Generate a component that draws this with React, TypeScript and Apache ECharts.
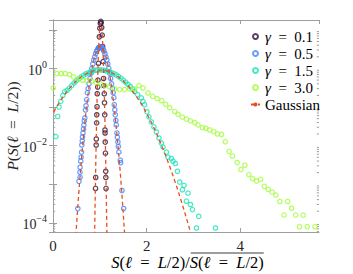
import React, { useEffect, useRef } from 'react';
import * as echarts from 'echarts';

const FONT = 'Liberation Serif';
const TXT = '#262626';
const AXIS = '#9e9e9e';

const seriesNames = ['γ = 0.1', 'γ = 0.5', 'γ = 1.5', 'γ = 3.0'];
const seriesColors = ['#30123b', '#4686fb', '#1ae4b6', '#a2fc3c'];
const gaussName = 'Gaussian';
const gaussColor = '#e4501e';

// gamma = 0.1
const gamma01: number[][] = [
  [1.02, 16.5], [1.01, 14.8], [1.03, 15.2], [1.0, 11.0], [1.04, 11.5], [0.99, 6.6], [1.05, 7.3],
  [0.98, 3.4], [1.06, 3.7], [0.97, 1.35], [1.07, 1.5], [0.96, 0.5], [1.08, 0.55], [0.955, 0.33], [1.085, 0.36],
  [0.945, 0.222], [0.94, 0.102], [0.935, 0.063], [0.932, 0.039], [0.925, 0.0149], [0.922, 0.0104],
  [0.912, 0.0015], [0.908, 0.00078],
  [1.095, 0.222], [1.1, 0.129], [1.105, 0.063], [1.11, 0.0255], [1.112, 0.0213], [1.115, 0.0124],
  [1.12, 0.0064], [1.126, 0.00217], [1.128, 0.0015], [1.132, 0.00078],
];

// gamma = 0.5
const gamma05: number[][] = [
  [0.75, 0.3], [0.77, 0.4], [0.79, 0.55], [0.81, 0.75], [0.83, 1.0], [0.85, 1.3], [0.87, 1.65], [0.89, 2.0],
  [0.91, 2.4], [0.93, 2.8], [0.95, 3.1], [0.97, 3.4], [0.99, 3.58], [1.01, 3.65], [1.03, 3.58], [1.05, 3.4],
  [1.07, 3.15], [1.09, 2.8], [1.11, 2.4], [1.13, 2.0], [1.15, 1.65], [1.17, 1.3], [1.19, 1.0], [1.21, 0.75],
  [1.23, 0.55], [1.25, 0.4], [1.27, 0.3],
  [0.735, 0.236], [0.72, 0.155], [0.705, 0.108], [0.695, 0.084], [0.68, 0.0526], [0.668, 0.0439],
  [0.66, 0.0345], [0.652, 0.0271], [0.64, 0.0213], [0.63, 0.0168], [0.625, 0.0132], [0.615, 0.0104],
  [0.61, 0.0068], [0.6, 0.00504], [0.592, 0.00396], [0.578, 0.00276], [0.575, 0.00205], [0.578, 0.00151],
  [0.555, 0.00119], [0.53, 0.000235],
  [1.285, 0.236], [1.3, 0.175], [1.309, 0.115], [1.32, 0.085], [1.33, 0.063], [1.342, 0.045], [1.352, 0.0345],
  [1.365, 0.0213], [1.375, 0.0165], [1.386, 0.0124], [1.395, 0.0095], [1.407, 0.0068], [1.437, 0.0042],
  [1.444, 0.00362], [1.472, 0.00069], [1.508, 0.000235],
];

// gamma = 1.5
const gamma15: number[][] = [
  [0.06, 0.0171], [0.1, 0.057], [0.13, 0.1], [0.165, 0.14], [0.21, 0.2], [0.25, 0.25],
  [0.3, 0.27], [0.35, 0.31], [0.4, 0.36], [0.45, 0.42], [0.5, 0.48], [0.55, 0.54], [0.6, 0.6], [0.65, 0.66],
  [0.7, 0.72], [0.75, 0.77], [0.8, 0.82], [0.85, 0.86], [0.9, 0.89], [0.95, 0.91], [1.0, 0.92], [1.05, 0.91],
  [1.1, 0.89], [1.15, 0.86], [1.2, 0.83], [1.25, 0.78], [1.3, 0.73], [1.35, 0.68], [1.4, 0.62], [1.45, 0.56],
  [1.5, 0.5], [1.55, 0.44], [1.6, 0.39], [1.65, 0.34], [1.7, 0.29],
  [1.743, 0.255], [1.807, 0.21], [1.887, 0.172], [1.921, 0.14], [1.957, 0.115], [2.006, 0.0754],
  [2.049, 0.0558], [2.1, 0.0413], [2.156, 0.0306], [2.207, 0.0226], [2.263, 0.0158], [2.314, 0.0117],
  [2.349, 0.00919], [2.421, 0.0068], [2.456, 0.00504], [2.528, 0.00466], [2.563, 0.00396], [2.614, 0.00345],
  [2.657, 0.00217], [2.706, 0.00114], [2.764, 0.000723], [2.798, 0.000936], [2.849, 0.000364],
  [2.883, 0.000589], [2.935, 0.000299], [2.978, 0.000221], [3.112, 0.000148], [3.063, 0.0000736],
  [3.47, 0.0000736],
];

// gamma = 3.0
const gamma30: number[][] = [
  [0.005, 0.313], [0.081, 0.74], [0.175, 0.74], [0.261, 0.74], [0.353, 0.697], [0.439, 0.607], [0.545, 0.538],
  [0.637, 0.495], [0.732, 0.486], [0.83, 0.466], [0.92, 0.431], [1.016, 0.394], [1.112, 0.36], [1.209, 0.333],
  [1.316, 0.295], [1.422, 0.283], [1.529, 0.283], [1.636, 0.295], [1.743, 0.292], [1.835, 0.36], [1.921, 0.313],
  [2.028, 0.232], [2.128, 0.189], [2.225, 0.165], [2.321, 0.146], [2.406, 0.118], [2.492, 0.0959],
  [2.599, 0.0768], [2.67, 0.0649], [2.764, 0.0548], [2.849, 0.0486], [2.935, 0.0439], [3.027, 0.0396],
  [3.097, 0.0345], [3.191, 0.0293], [3.262, 0.0283], [3.348, 0.0255], [3.433, 0.0231], [3.512, 0.0201],
  [3.598, 0.0195], [3.679, 0.01265], [3.76, 0.0071], [3.833, 0.00542], [3.932, 0.00366], [4.011, 0.00241],
  [4.096, 0.00311], [4.182, 0.00178], [4.261, 0.0014], [4.347, 0.00121], [4.432, 0.00134], [4.513, 0.00088],
  [4.595, 0.000736], [4.68, 0.000625], [4.759, 0.000522], [4.845, 0.000358], [4.935, 0.000159],
  [5.01, 0.000358], [5.095, 0.000239], [5.181, 0.000159], [5.264, 0.0000796], [5.343, 0.000159],
  [5.429, 0.0000796], [5.594, 0.0000796],
];

// Gaussian fits
const gaussMeans = [1.02, 1.01, 1.0];
const gaussSigmas = [0.026, 0.11, 0.44];

const xTickValues = [0, 2, 4];
const yLabelExponents = [-4, -2, 0];
const xMin = 0;
const xMax = 5.68;
const yMin = 5.8e-5;
const yMax = 18;

function gaussCurve(mu: number, sigma: number): number[][] {
  const peak = 1 / (sigma * Math.sqrt(2 * Math.PI));
  const half = sigma * Math.sqrt(2 * Math.log(peak / 2e-5));
  const pts: number[][] = [];
  const n = 240;
  for (let i = 0; i <= n; i++) {
    const x = mu - half + (2 * half * i) / n;
    if (x < xMin) continue;
    pts.push([x, peak * Math.exp(-((x - mu) * (x - mu)) / (2 * sigma * sigma))]);
  }
  return pts;
}

const richMath = (size: number) => ({
  i: { fontFamily: FONT, fontStyle: 'italic', fontSize: size, color: TXT },
  r: { fontFamily: FONT, fontStyle: 'normal', fontSize: size, color: TXT },
});

type Part = [string, boolean];
const toRich = (parts: Part[]) => parts.map(([t, it]) => `{${it ? 'i' : 'r'}|${t}}`).join('');
function measure(parts: Part[], size: number) {
  const ctx = document.createElement('canvas').getContext('2d');
  if (!ctx) return parts.reduce((s, [t]) => s + t.length * size * 0.5, 0);
  let w = 0;
  for (const [t, it] of parts) {
    ctx.font = `${it ? 'italic ' : ''}${size}px ${FONT}`;
    w += ctx.measureText(t).width;
  }
  return w;
}

function buildOption() {
  const sep = '\u2002=\u2002';
  const sPart: Part[] = [['S', true], ['(', false], ['ℓ', true], [sep, false], ['L', true], ['/2)', false]];
  const leftParts: Part[] = [...sPart, ['/', false]];
  const labelSize = 16.5;
  const w1 = measure(leftParts, labelSize);
  const w2 = measure(sPart, labelSize);
  const cx = 187.5;
  const split = cx - (w1 + w2) / 2 + w1;
  const labelY = 262;

  const minorTicks: number[][] = [];
  for (let e = -5; e <= 1; e++) {
    for (let m = 2; m <= 9; m++) {
      const v = m * Math.pow(10, e);
      if (v > yMin && v < yMax) minorTicks.push([xMin, v]);
    }
  }

  const scatterData = [gamma01, gamma05, gamma15, gamma30];
  const scatterSeries = scatterData.map((d, i) => ({
    type: 'scatter',
    name: seriesNames[i],
    data: d,
    symbol: 'circle',
    symbolSize: 4.4,
    itemStyle: { color: 'transparent', borderColor: seriesColors[i], borderWidth: 1.25 },
    z: 2,
    silent: true,
  }));
  const gaussSeries = gaussMeans.map((mu, i) => ({
    type: 'line',
    name: gaussName,
    data: gaussCurve(mu, gaussSigmas[i]),
    symbol: 'none',
    showSymbol: false,
    clip: true,
    lineStyle: { color: gaussColor, width: 1.3, type: [4, 3] },
    itemStyle: { color: gaussColor },
    z: 3,
    silent: true,
  }));

  const yFormatter = (v: number) => {
    const e = Math.log10(v);
    const r = Math.round(e);
    if (Math.abs(e - r) > 1e-6 || !yLabelExponents.includes(r)) return '';
    return `{b|10}{s|${r < 0 ? '\u2212' + -r : r}}`;
  };

  const commonY = {
    type: 'log',
    logBase: 10,
    min: yMin,
    max: yMax,
    splitNumber: 5,
    splitLine: { show: false },
    axisLine: { show: true, lineStyle: { color: AXIS, width: 1 } },
    axisTick: { show: true, inside: true, length: 4, lineStyle: { color: AXIS } },
  };
  const commonX = {
    type: 'value',
    min: xMin,
    max: xMax,
    interval: 2,
    splitLine: { show: false },
    axisLine: { show: true, lineStyle: { color: AXIS, width: 1 } },
    axisTick: { show: true, inside: true, length: 4, lineStyle: { color: AXIS } },
  };

  return {
    animation: false,
    backgroundColor: '#fff',
    textStyle: { fontFamily: FONT, color: TXT },
    grid: { left: 53, right: 34, top: 20, bottom: 42, containLabel: false, outerBoundsMode: 'none' },
    xAxis: [
      {
        ...commonX,
        position: 'bottom',
        axisLabel: {
          margin: 6,
          fontFamily: FONT,
          fontSize: 15,
          color: TXT,
          showMaxLabel: false,
          formatter: (v: number) => (xTickValues.includes(v) ? String(v) : ''),
        },
      },
      { ...commonX, position: 'top', axisLabel: { show: false } },
    ],
    yAxis: [
      {
        ...commonY,
        position: 'left',
        name: toRich([['P', true], ['(', false], ['S', true], ['(', false], ['ℓ', true], [sep, false], ['L', true], ['/2))', false]]),
        nameLocation: 'middle',
        nameGap: 33,
        nameMoveOverlap: false,
        nameRotate: 90,
        nameTextStyle: { fontFamily: FONT, fontSize: 15.5, lineHeight: 16, rich: richMath(15.5) },
        axisLabel: {
          margin: 6,
          fontFamily: FONT,
          fontSize: 14,
          color: TXT,
          formatter: yFormatter,
          rich: {
            b: { fontFamily: FONT, fontSize: 14, color: TXT, verticalAlign: 'bottom' },
            s: { fontFamily: FONT, fontSize: 10, color: TXT, verticalAlign: 'bottom', padding: [0, 0, 8, 0] },
          },
        },
      },
      { ...commonY, position: 'right', axisLabel: { show: false } },
    ],
    legend: {
      data: [...seriesNames, gaussName],
      orient: 'vertical',
      left: 245,
      top: 24,
      itemWidth: 9,
      itemHeight: 5,
      itemGap: 2,
      selectedMode: false,
      formatter: (name: string) =>
        name.startsWith('γ') ? `{g|γ}{t|${name.slice(1).replace(' = ', '\u2002=\u2002')}}` : `{t|${name}}`,
      textStyle: {
        fontFamily: FONT,
        fontSize: 15,
        lineHeight: 15,
        color: '#000',
        rich: {
          g: { fontFamily: FONT, fontStyle: 'italic', fontSize: 15, color: '#000' },
          t: { fontFamily: FONT, fontSize: 15, color: '#000' },
        },
      },
    },
    graphic: [
      {
        type: 'text',
        x: split,
        y: labelY,
        silent: true,
        style: { text: toRich(leftParts), rich: richMath(labelSize), font: `${labelSize}px ${FONT}`, align: 'right', verticalAlign: 'middle' },
      },
      {
        type: 'text',
        x: split,
        y: labelY,
        silent: true,
        style: { text: toRich(sPart), rich: richMath(labelSize), font: `${labelSize}px ${FONT}`, align: 'left', verticalAlign: 'middle' },
      },
      {
        type: 'line',
        silent: true,
        shape: { x1: split + 1, y1: labelY - 9, x2: split + w2, y2: labelY - 9 },
        style: { stroke: TXT, lineWidth: 0.9 },
      },
    ],
    series: [
      ...scatterSeries,
      ...gaussSeries,
      {
        type: 'custom',
        name: 'minorTicks',
        silent: true,
        data: minorTicks,
        z: 1,
        clip: false,
        renderItem: (_p: any, api: any) => {
          const v = api.value(1);
          const pl = api.coord([xMin, v]);
          const pr = api.coord([xMax, v]);
          return {
            type: 'group',
            children: [
              { type: 'line', shape: { x1: pl[0], y1: pl[1], x2: pl[0] + 2.2, y2: pl[1] }, style: { stroke: AXIS, lineWidth: 1 } },
              { type: 'line', shape: { x1: pr[0] - 2.2, y1: pr[1], x2: pr[0], y2: pr[1] }, style: { stroke: AXIS, lineWidth: 1 } },
            ],
          };
        },
      },
    ],
  };
}

export default function App() {
  const ref = useRef<HTMLDivElement>(null);
  useEffect(() => {
    if (!ref.current) return;
    const chart = echarts.init(ref.current, undefined, { renderer: 'svg' });
    chart.setOption(buildOption() as any);
    return () => chart.dispose();
  }, []);
  return (
    <div
      ref={ref}
      style={{ position: 'fixed', left: 0, top: 0, width: 353, height: 274, background: '#fff' }}
    />
  );
}
